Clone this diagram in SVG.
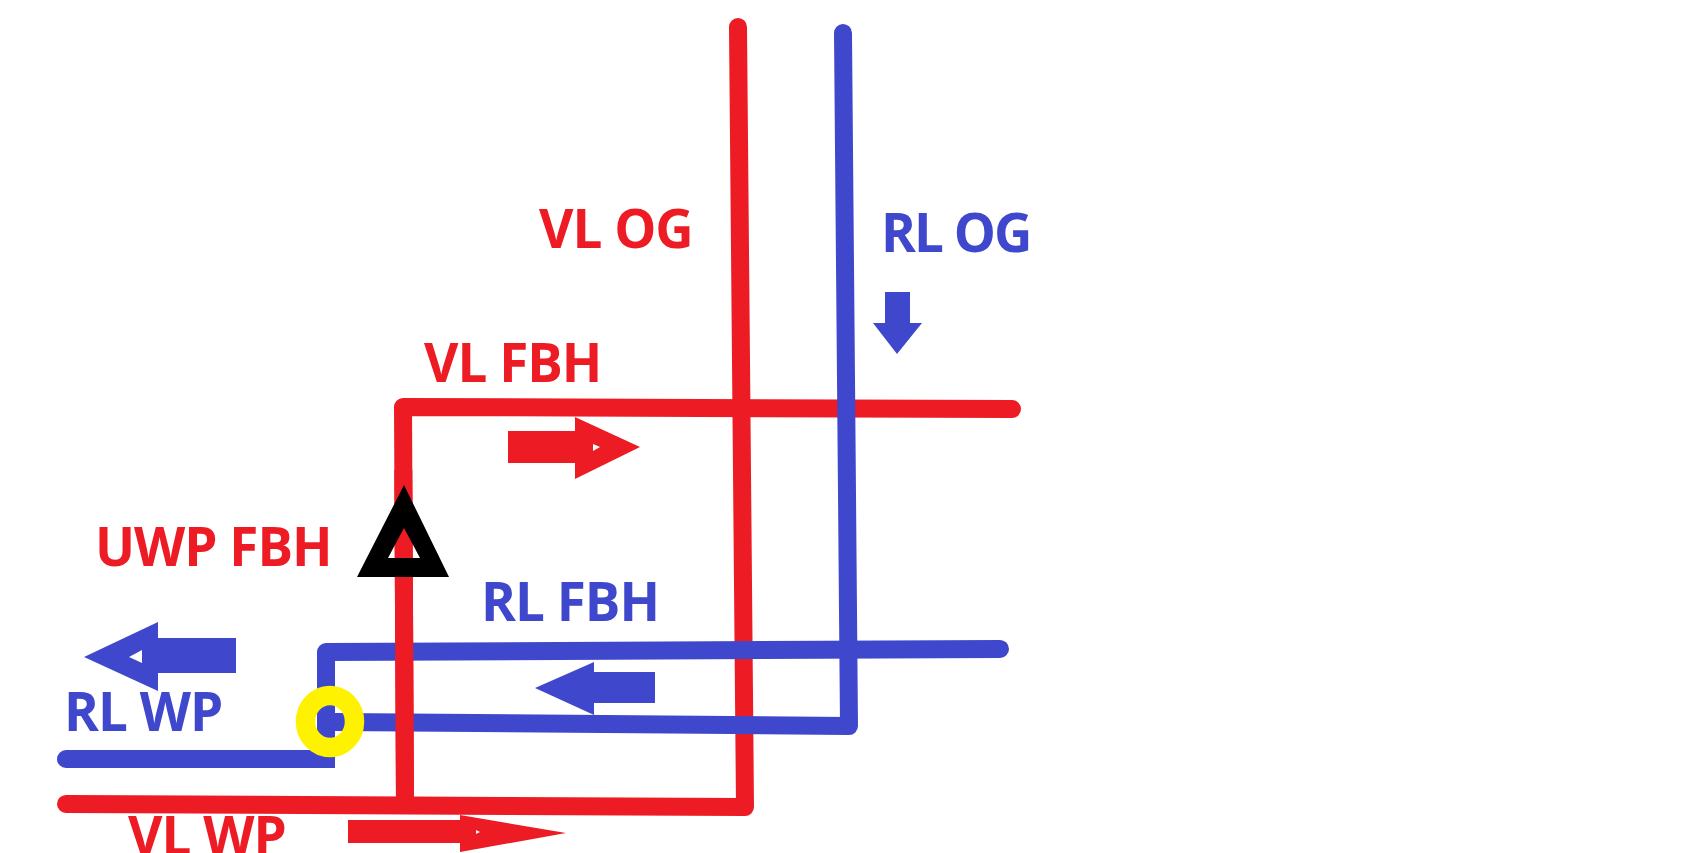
<svg xmlns="http://www.w3.org/2000/svg" width="1700" height="853" viewBox="0 0 1700 853">
<style>
.pipe{fill:none;stroke-width:18;stroke-linecap:round;stroke-linejoin:round}
.r{stroke:#ED1C24}
.b{stroke:#3F48CC}
.lbl{font-family:"Open Sans","Noto Sans","Liberation Sans",sans-serif;font-weight:bold;font-size:53px;letter-spacing:-1px}
.tr{fill:#ED1C24}
.tb{fill:#3F48CC}
.notch{fill:#FFFFFF}
</style>
<rect width="1700" height="853" fill="#FFFFFF"/>
<g id="connectors">
  <path id="vl-og" class="pipe r" d="M66,804 L745,807 L738,27"/>
  <path id="vl-fbh" class="pipe r" d="M405,804 L403,407 L1012,409"/>
  <path id="rl-og" class="pipe b" d="M335,722 L849,726 L843,33"/>
  <path id="rl-wp" class="pipe b" style="stroke-linejoin:miter" d="M66,759 L326,759 L326,700"/>
  <path id="rl-fbh" class="pipe b" d="M326,720 L326,652 L1000,649"/>
  <path id="uwp-riser" class="pipe r" style="stroke-linecap:butt" d="M405,806 L403.3,470"/>
</g>
<g id="pump">
  <path d="M404,485 L449,577 L357,577 Z M404,528 L388,558 L420,558 Z" fill="#000000" fill-rule="evenodd"/>
</g>
<g id="mixer">
  <ellipse cx="330" cy="721.5" rx="24.5" ry="26" fill="none" stroke="#FFF200" stroke-width="19.5"/>
</g>
<g id="arrows">
  <g id="arrow-vl-fbh">
    <polygon class="tr" points="508,431 575,431 575,417 640,447 575,479 575,463 508,463"/>
    <polygon class="notch" points="593,444 600,447 593,451"/>
  </g>
  <g id="arrow-rl-og">
    <polygon class="tb" points="885,292 910,292 910,323 922,323 897,354 873,323 885,323"/>
  </g>
  <g id="arrow-rl-wp">
    <polygon class="tb" points="236,638 158,638 158,622 84,657 158,691 158,673 236,673"/>
    <polygon class="notch" points="129,657 142,650 142,663"/>
  </g>
  <g id="arrow-rl-fbh">
    <polygon class="tb" points="655,672 594,672 594,662 535,688 594,715 594,703 655,703"/>
  </g>
  <g id="arrow-vl-wp">
    <polygon class="tr" points="348,820 460,820 460,815 566,833 460,852 460,843 348,843"/>
    <polygon class="notch" points="476,830 480,832 476,834"/>
  </g>
</g>
<g id="labels">
  <text id="t-vl-og" class="lbl tr" x="539" y="248">VL OG</text>
  <text id="t-rl-og" class="lbl tb" x="881" y="252" style="letter-spacing:-2px">RL OG</text>
  <text id="t-vl-fbh" class="lbl tr" x="424" y="382">VL FBH</text>
  <text id="t-uwp-fbh" class="lbl tr" x="95" y="566">UWP FBH</text>
  <text id="t-rl-fbh" class="lbl tb" x="481" y="621">RL FBH</text>
  <text id="t-rl-wp" class="lbl tb" x="64" y="731">RL WP</text>
  <text id="t-vl-wp" class="lbl tr" x="128" y="855">VL WP</text>
</g>
</svg>
